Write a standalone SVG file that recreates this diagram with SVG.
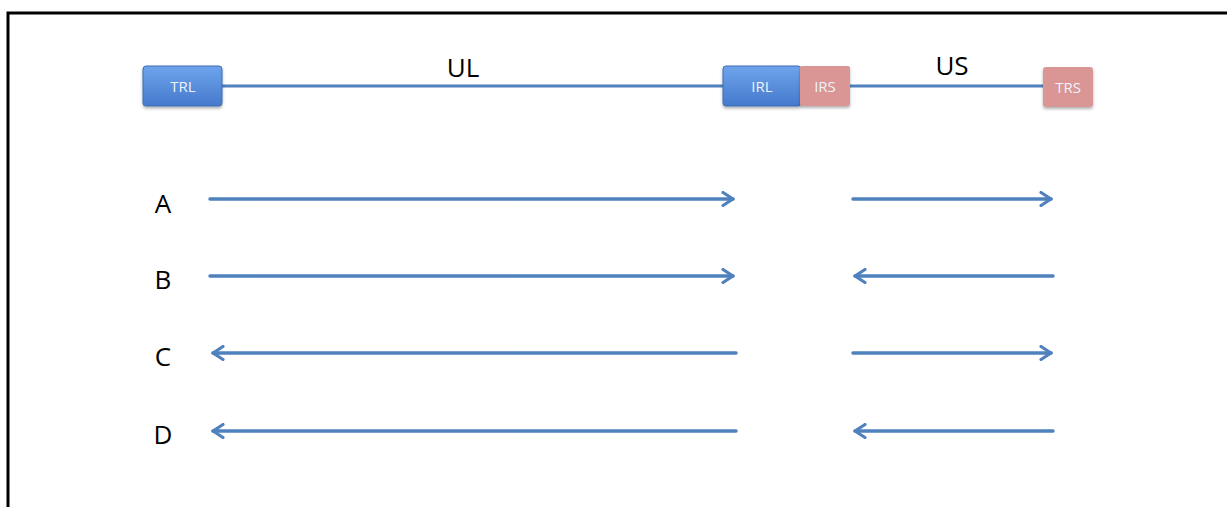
<svg xmlns="http://www.w3.org/2000/svg" width="1227" height="507" viewBox="0 0 1227 507">
  <defs>
    <linearGradient id="blueFill" x1="0" y1="0" x2="0" y2="1">
      <stop offset="0" stop-color="#6ea4ec"/>
      <stop offset="1" stop-color="#4579cc"/>
    </linearGradient>
    <filter id="shadow" x="-10%" y="-10%" width="130%" height="140%">
      <feDropShadow dx="0" dy="2" stdDeviation="1.5" flood-color="#000" flood-opacity="0.3"/>
    </filter>
    <marker id="head" viewBox="0 0 14 16" refX="12" refY="8" markerWidth="14" markerHeight="16" markerUnits="userSpaceOnUse" orient="auto-start-reverse">
      <path d="M2,1.5 L12,8 L2,14.5" fill="none" stroke="#4f81bd" stroke-width="3.2" stroke-linecap="round" stroke-linejoin="round"/>
    </marker>
    <style>
      .frame { fill: none; stroke: #000; stroke-width: 3; }
      .track { stroke: #4f81bd; stroke-width: 3; }
      .blue { fill: url(#blueFill); stroke: #3d6db5; stroke-width: 1; filter: url(#shadow); }
      .pink { fill: #d99694; filter: url(#shadow); }
      .boxText { font-family: "Open Sans", "DejaVu Sans", sans-serif; font-size: 15px; fill: #eef3fb; text-anchor: middle; }
      .label { font-family: "Open Sans", "Liberation Sans", sans-serif; font-size: 26px; fill: #000; text-anchor: middle; }
      .arrow { stroke: #4f81bd; stroke-width: 3.5; fill: none; stroke-linecap: round; }
    </style>
  </defs>

  <rect width="1227" height="507" fill="#fff"/>
  <!-- outer frame, open to the right and bottom -->
  <path class="frame" d="M8,520 L8,13 L1240,13"/>

  <g id="connectors">
    <!-- genome backbone -->
    <line class="track" x1="222" y1="86" x2="724" y2="86"/>
    <line class="track" x1="850" y1="86" x2="1044" y2="86"/>

    <!-- A -->
    <line class="arrow" x1="210" y1="199" x2="733" y2="199" marker-end="url(#head)"/>
    <line class="arrow" x1="853" y1="199" x2="1051" y2="199" marker-end="url(#head)"/>
    <!-- B -->
    <line class="arrow" x1="210" y1="276" x2="733" y2="276" marker-end="url(#head)"/>
    <line class="arrow" x1="1053" y1="276" x2="855" y2="276" marker-end="url(#head)"/>
    <!-- C -->
    <line class="arrow" x1="736" y1="353" x2="213" y2="353" marker-end="url(#head)"/>
    <line class="arrow" x1="853" y1="353" x2="1051" y2="353" marker-end="url(#head)"/>
    <!-- D -->
    <line class="arrow" x1="736" y1="431" x2="213" y2="431" marker-end="url(#head)"/>
    <line class="arrow" x1="1053" y1="431" x2="855" y2="431" marker-end="url(#head)"/>
  </g>

  <g id="TRL">
    <rect class="blue" x="143" y="66" width="79" height="40" rx="3"/>
    <text class="boxText" x="183" y="92">TRL</text>
  </g>
  <g id="IRL">
    <rect class="blue" x="723" y="66" width="78" height="40" rx="3"/>
    <text class="boxText" x="762" y="92">IRL</text>
  </g>
  <g id="IRS">
    <rect class="pink" x="800" y="66" width="50" height="40" rx="2"/>
    <text class="boxText" x="825" y="92">IRS</text>
  </g>
  <g id="TRS">
    <rect class="pink" x="1043" y="67" width="50" height="40" rx="3"/>
    <text class="boxText" x="1068" y="93">TRS</text>
  </g>

  <g id="labels">
    <text class="label" x="463" y="77">UL</text>
    <text class="label" x="952" y="75">US</text>
    <text class="label" x="163" y="213">A</text>
    <text class="label" x="163" y="289">B</text>
    <text class="label" x="163" y="366">C</text>
    <text class="label" x="163" y="444">D</text>
  </g>
</svg>
